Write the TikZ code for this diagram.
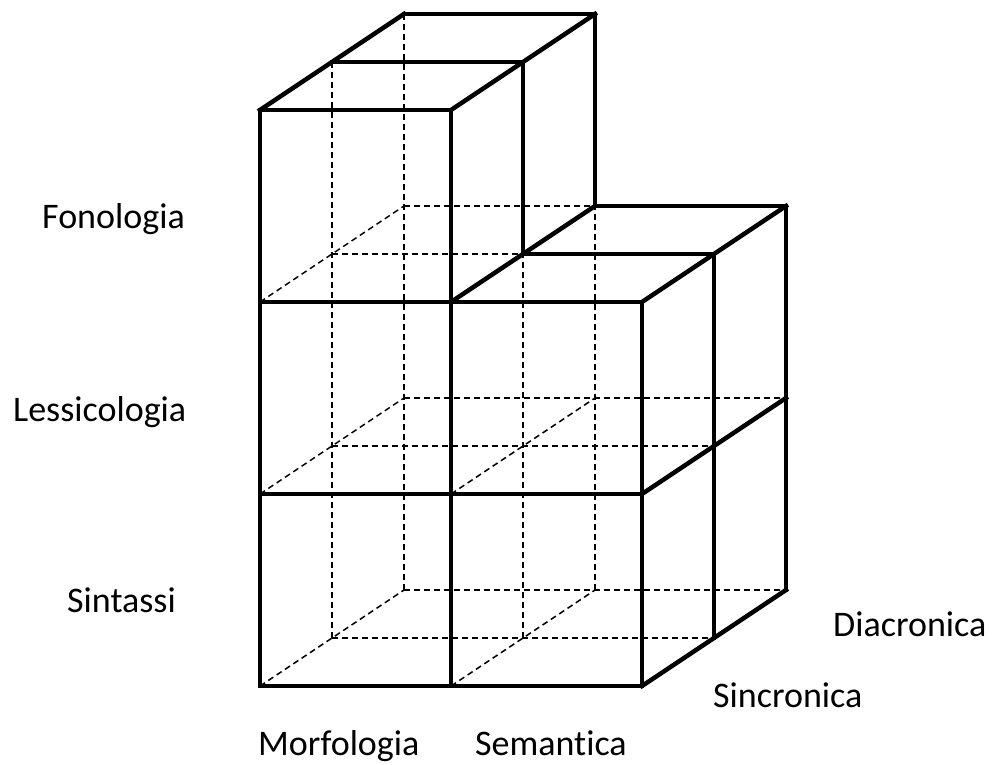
\documentclass[tikz,border=0pt]{standalone}
\usepackage{fontspec}
\setmainfont[Ligatures={NoCommon}]{Carlito}
\begin{document}
\begin{tikzpicture}[x=1pt,y=-1pt,
  solidedge/.style={line width=4.5pt,line cap=rect,line join=miter},
  hiddenedge/.style={line width=1.5pt,dash pattern=on 6pt off 4pt},
  lab/.style={anchor=base west,inner sep=0pt,font=\fontsize{36}{43}\selectfont}]
\useasboundingbox (0,0) rectangle (998,764);
\foreach \i in {0,1,2}{\foreach \j in {0,1,2,3}{\foreach \k in {0,1,2}{
  \coordinate (p-\i-\j-\k) at ({260+191*\i+72*\k},{686-192*\j-48*\k});}}}
% hidden edges
\foreach \k in {1,2}{
  \draw[hiddenedge] (p-0-0-\k) -- (p-0-3-\k);
  \draw[hiddenedge] (p-1-0-\k) -- (p-1-2-\k);
  \draw[hiddenedge] (p-0-0-\k) -- (p-2-0-\k);
  \draw[hiddenedge] (p-0-1-\k) -- (p-2-1-\k);
  \draw[hiddenedge] (p-0-2-\k) -- (p-1-2-\k);
}
\foreach \j in {0,1,2}{\draw[hiddenedge] (p-0-\j-0) -- (p-0-\j-2);}
\foreach \j in {0,1}{\draw[hiddenedge] (p-1-\j-0) -- (p-1-\j-2);}
% visible edges: front face
\draw[solidedge] (p-0-0-0) -- (p-0-3-0);
\draw[solidedge] (p-1-0-0) -- (p-1-3-0);
\draw[solidedge] (p-2-0-0) -- (p-2-2-0);
\foreach \j in {0,1,2}{\draw[solidedge] (p-0-\j-0) -- (p-2-\j-0);}
\draw[solidedge] (p-0-3-0) -- (p-1-3-0);
% tower top and right side
\foreach \k in {1,2}{
  \draw[solidedge] (p-0-3-\k) -- (p-1-3-\k);
  \draw[solidedge] (p-1-2-\k) -- (p-1-3-\k);
  \draw[solidedge] (p-1-2-\k) -- (p-2-2-\k);
  \draw[solidedge] (p-2-0-\k) -- (p-2-2-\k);
}
\draw[solidedge] (p-0-3-0) -- (p-0-3-2);
\draw[solidedge] (p-1-3-0) -- (p-1-3-2);
\draw[solidedge] (p-1-2-0) -- (p-1-2-2);
\foreach \j in {0,1,2}{\draw[solidedge] (p-2-\j-0) -- (p-2-\j-2);}
% labels
\node[lab] (fon) at (42,228) {Fonologia};
\node[lab] (les) at (13,421) {Lessicologia};
\node[lab] (sin) at (67,612) {Sintassi};
\node[lab] (mor) at (258,755) {Morfologia};
\node[lab] (sem) at (475,755) {Semantica};
\node[lab] (sinc) at (713,707) {Sincronica};
\node[lab] (dia) at (833,636) {Diacronica};
\end{tikzpicture}
\end{document}
